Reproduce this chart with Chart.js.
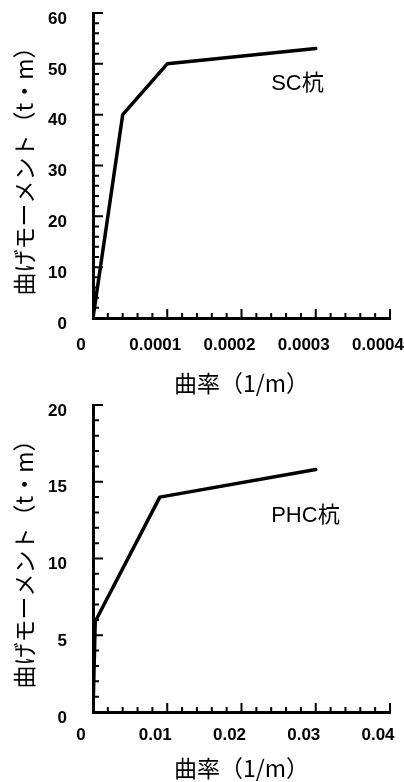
<!DOCTYPE html>
<html>
<head>
<meta charset="utf-8">
<script src="https://cdn.jsdelivr.net/npm/chart.js@4/dist/chart.umd.min.js"></script>
<style>
  html, body { margin: 0; padding: 0; background: #fff; }
  #wrap { position: relative; width: 404px; height: 782px; overflow: hidden; }
  canvas { position: absolute; left: 0; }
  #c1 { top: 0; }
  #c2 { top: 385px; }
</style>
</head>
<body>
<div id="wrap">
  <canvas id="c1" width="404" height="397"></canvas>
  <canvas id="c2" width="404" height="397"></canvas>
</div>
<script>
// Moment–curvature relations of the two pile types
const scCurvature  = [0, 0.00004, 0.0001, 0.0003];
const scMoment     = [0, 40, 50, 53];
const phcCurvature = [0, 0.0003, 0.009, 0.03];
const phcMoment    = [0, 5.9, 14, 15.8];

// Tick labels (major ticks only)
const scXTickLabels  = ['0', '0.0001', '0.0002', '0.0003', '0.0004'];
const scYTickLabels  = ['0', '10', '20', '30', '40', '50', '60'];
const phcXTickLabels = ['0', '0.01', '0.02', '0.03', '0.04'];
const phcYTickLabels = ['0', '5', '10', '15', '20'];

const seriesNames = ['SC杭', 'PHC杭'];
const xTitle = '曲率（1/m）';
const yTitle = '曲げモーメント（t・m）';

const LATIN = "'Liberation Sans', Arial, sans-serif";
const CJK = "'Noto Sans CJK JP', 'Liberation Sans', sans-serif";

// Build the tick list on minor steps; only multiples of the major step get a label
function tickedAxis(labels, majorStep, minorStep, opts) {
  const max = majorStep * (labels.length - 1);
  return {
    type: 'linear',
    min: 0,
    max: max,
    afterBuildTicks(scale) {
      const n = Math.round(max / minorStep);
      const ticks = [];
      for (let i = 0; i <= n; i++) ticks.push({ value: i * minorStep });
      scale.ticks = ticks;
    },
    afterFit(scale) {
      if (opts.width !== undefined) scale.width = opts.width;
      if (opts.height !== undefined) scale.height = opts.height;
      scale.paddingLeft = 0; scale.paddingRight = 0;
      scale.paddingTop = 0; scale.paddingBottom = 0;
    },
    grid: { display: false, drawTicks: false },
    border: { display: true, color: '#000', width: 3 },
    ticks: {
      autoSkip: false,
      maxRotation: 0,
      minRotation: 0,
      padding: opts.padding,
      labelOffset: opts.labelOffset || 0,
      color: '#000',
      font: { family: LATIN, size: 17, weight: 'bold' },
      callback(value) {
        const r = value / majorStep;
        const k = Math.round(r);
        return Math.abs(r - k) < 1e-6 ? labels[k] : '';
      }
    },
    title: {
      display: true,
      text: opts.title,
      color: '#000',
      font: { family: CJK, size: 23, lineHeight: 1.2 },
      padding: opts.titlePadding
    }
  };
}

// Tick marks drawn inward from the axis lines, longer on major steps
const inwardTicks = {
  id: 'inwardTicks',
  beforeDatasetsDraw(chart) {
    const { ctx, chartArea: a, scales } = chart;
    ctx.save();
    ctx.strokeStyle = '#000';
    ctx.lineWidth = 2;
    ctx.beginPath();
    const ys = scales.y, xs = scales.x;
    ys.ticks.forEach((t) => {
      const p = ys.getPixelForValue(t.value);
      const len = t.label ? 10 : 6;
      ctx.moveTo(a.left, p); ctx.lineTo(a.left + len, p);
    });
    xs.ticks.forEach((t) => {
      const p = xs.getPixelForValue(t.value);
      const len = t.label ? 9 : 5;
      ctx.moveTo(p, a.bottom); ctx.lineTo(p, a.bottom - len);
    });
    ctx.stroke();
    ctx.restore();
  }
};

// Series name written inside the plot at a data position
const seriesNote = {
  id: 'seriesNote',
  afterDatasetsDraw(chart, args, opts) {
    const { ctx, scales } = chart;
    ctx.save();
    ctx.fillStyle = '#000';
    ctx.font = "22px " + LATIN + ", 'Noto Sans CJK JP'";
    ctx.textAlign = 'left';
    ctx.textBaseline = 'middle';
    ctx.fillText(opts.text, scales.x.getPixelForValue(opts.x), scales.y.getPixelForValue(opts.y));
    ctx.restore();
  }
};

function makeChart(id, xs, ys, cfg) {
  return new Chart(document.getElementById(id), {
    type: 'line',
    data: {
      datasets: [{
        label: cfg.name,
        data: xs.map((x, i) => ({ x: x, y: ys[i] })),
        borderColor: '#000',
        borderWidth: 3.5,
        pointRadius: 0,
        fill: false,
        tension: 0,
        borderJoinStyle: 'round',
        borderCapStyle: 'round'
      }]
    },
    options: {
      responsive: false,
      animation: false,
      layout: { padding: { top: cfg.top, right: 14, bottom: 0, left: 0 } },
      plugins: {
        legend: { display: false },
        tooltip: { enabled: false },
        seriesNote: { text: cfg.name, x: cfg.noteX, y: cfg.noteY }
      },
      scales: {
        x: tickedAxis(cfg.xLabels, cfg.xMajor, cfg.xMinor, {
          height: cfg.xHeight, padding: cfg.xPad, labelOffset: -12, title: xTitle,
          titlePadding: { top: 0, bottom: 0 }
        }),
        y: tickedAxis(cfg.yLabels, cfg.yMajor, cfg.yMinor, {
          width: 93, padding: 26, labelOffset: 6, title: yTitle,
          titlePadding: { top: 10, bottom: 10 }
        })
      }
    },
    plugins: [inwardTicks, seriesNote]
  });
}

makeChart('c1', scCurvature, scMoment, {
  name: seriesNames[0],
  xLabels: scXTickLabels, xMajor: 0.0001, xMinor: 0.00002,
  yLabels: scYTickLabels, yMajor: 10, yMinor: 2,
  top: 13, xHeight: 79, xPad: 17,
  noteX: 0.00024, noteY: 46
});

makeChart('c2', phcCurvature, phcMoment, {
  name: seriesNames[1],
  xLabels: phcXTickLabels, xMajor: 0.01, xMinor: 0.002,
  yLabels: phcYTickLabels, yMajor: 5, yMinor: 1,
  top: 20, xHeight: 70, xPad: 13,
  noteX: 0.024, noteY: 12.8
});
</script>
</body>
</html>
